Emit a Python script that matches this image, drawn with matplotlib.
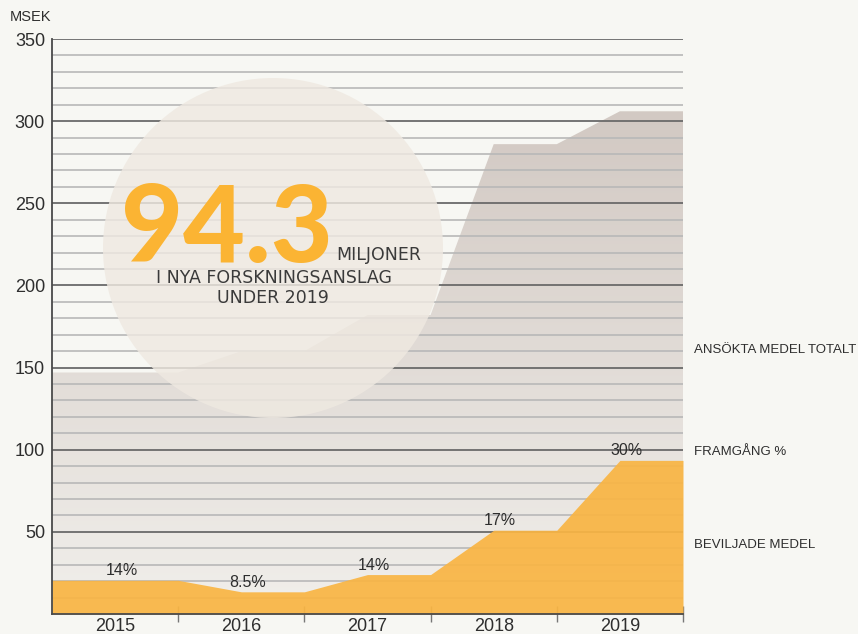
import numpy as np
import matplotlib
matplotlib.use('Agg')
import matplotlib.pyplot as plt
from matplotlib.patches import Polygon, Ellipse
from matplotlib.colors import LinearSegmentedColormap

# data
years = ['2015', '2016', '2017', '2018', '2019']
ansokta = [147, 160, 182, 286, 306]        # ansökta medel totalt, MSEK
beviljade = [20.5, 13.5, 24, 51, 93.5]     # beviljade medel, MSEK
framgang = ['14%', '8.5%', '14%', '17%', '30%']
y_ticks = [50, 100, 150, 200, 250, 300, 350]

sans = ['Liberation Sans', 'DejaVu Sans']
bg = '#f7f7f3'
txt = '#2e2e2e'


def step_shape(vals, ramp=0.5):
    # flat segment per year, with a ramp into it from the previous year
    xs, ys = [], []
    for i, v in enumerate(vals):
        xs += [i if i == 0 else i + ramp, i + 1]
        ys += [v, v]
    return np.array(xs), np.array(ys)


fig = plt.figure(figsize=(8.58, 6.34), dpi=100)
fig.patch.set_facecolor(bg)
ax = fig.add_axes([52/858, 20/634, 631/858, 575/634])
ax.set_facecolor(bg)

# gray area with vertical gradient
gx, gy = step_shape(ansokta)
verts = [(0, 0)] + list(zip(gx, gy)) + [(5, 0)]
poly = Polygon(verts, closed=True, facecolor='none', edgecolor='none')
ax.add_patch(poly)
cmap = LinearSegmentedColormap.from_list('grayfade', ['#f1efeb', '#d2c9c3'])
grad = np.linspace(0, 1, 256).reshape(-1, 1)
im = ax.imshow(grad, extent=[0, 5, 0, max(ansokta)], origin='lower',
               aspect='auto', cmap=cmap, zorder=1)
im.set_clip_path(poly)

ax.set_xlim(0, 5)
ax.set_ylim(0, 350)

# grid lines every 10, darker every 50
for v in range(10, 351, 10):
    if v % 50 == 0:
        ax.axhline(v, color='#6a6a6a', lw=1.3, zorder=2)
    else:
        ax.axhline(v, color='#b8b8b8', lw=1.2, zorder=2)

# the big circle
circ = Ellipse((273/858, 1 - 248/634), 2*170/858, 2*170/634,
               transform=fig.transFigure, facecolor='#efe9e1', edgecolor='none',
               alpha=0.82, zorder=3)
ax.add_patch(circ)

# orange area
bx, by = step_shape(beviljade)
ax.fill_between(bx, by, color='#f9b544', alpha=0.93, lw=0, zorder=4)

for i, (v, t) in enumerate(zip(beviljade, framgang)):
    ax.text(i + 0.55, v + 1.2, t, ha='center', va='bottom', fontsize=11.5,
            color=txt, family=sans, zorder=6)

for s in ['top', 'right']:
    ax.spines[s].set_visible(False)
for s in ['left', 'bottom']:
    ax.spines[s].set_color('#4a4a4a')
    ax.spines[s].set_linewidth(1.3)
    ax.spines[s].set_zorder(5)

ax.set_yticks(y_ticks)
ax.set_yticklabels([str(t) for t in y_ticks], family=sans)
ax.tick_params(axis='y', length=0, pad=5, labelsize=13, labelcolor=txt)

ax.set_xticks([1, 2, 3, 4, 5])
ax.set_xticklabels([])
ax.tick_params(axis='x', which='major', direction='inout', length=12,
               width=1, color='#777777')
ax.set_xticks(np.arange(5) + 0.5, minor=True)
ax.set_xticklabels(years, minor=True, family=sans)
ax.tick_params(axis='x', which='minor', length=0, pad=3, labelsize=13,
               labelcolor=txt)

# texts outside / in the circle
fig.text(10/858, 1 - 17/634, 'MSEK', va='center', ha='left', fontsize=10.5,
         color=txt, family=sans)

fig.text(121/858, 1 - 262/634, '94.3', ha='left', va='baseline', fontsize=77,
         weight='black', color='#fbb433', family=['Lato', 'DejaVu Sans'])
fig.text(336/858, 1 - 260/634, 'MILJONER', ha='left', va='baseline',
         fontsize=12.5, color='#3a3a3a')
fig.text(274/858, 1 - 283/634, 'I NYA FORSKNINGSANSLAG', ha='center',
         va='baseline', fontsize=12.5, color='#3a3a3a')
fig.text(273/858, 1 - 303/634, 'UNDER 2019', ha='center', va='baseline',
         fontsize=12.5, color='#3a3a3a')

fig.text(694/858, 1 - 350/634, 'ANSÖKTA MEDEL TOTALT', ha='left', va='center',
         fontsize=9.5, color=txt, family=sans)
fig.text(694/858, 1 - 452/634, 'FRAMGÅNG %', ha='left', va='center',
         fontsize=9.5, color=txt, family=sans)
fig.text(694/858, 1 - 545/634, 'BEVILJADE MEDEL', ha='left', va='center',
         fontsize=9.5, color=txt, family=sans)

fig.savefig('out.png', dpi=100, facecolor=fig.get_facecolor())
